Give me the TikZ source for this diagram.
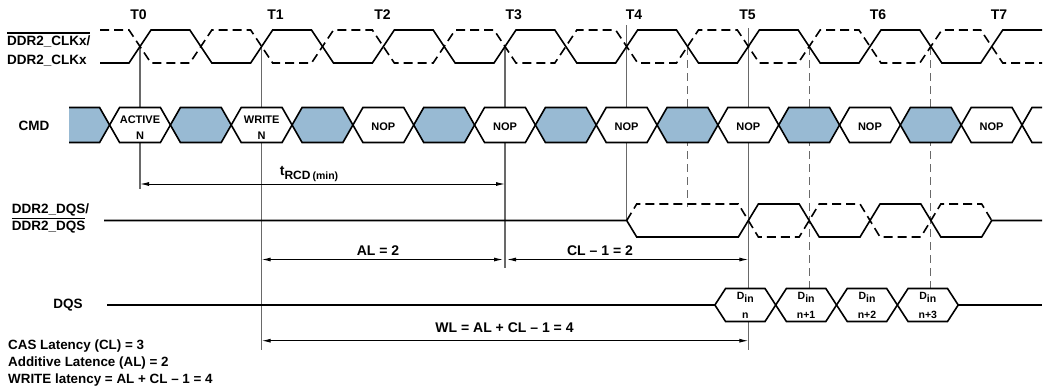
\documentclass[tikz,border=0pt]{standalone}
\usepackage{fontspec}
\setmainfont{Liberation Sans}
\usetikzlibrary{arrows.meta}
\definecolor{cmdblue}{RGB}{152,186,211}
\definecolor{guidegray}{RGB}{105,105,105}
\newcommand{\barsig}[1]{\vbox{\hrule height 1.2pt\kern 2.2pt\hbox{#1}}}

\begin{document}
\begin{tikzpicture}[x=1pt, y=-1pt, >={Latex[length=9pt,width=4pt]},
    font=\bfseries\fontsize{13.5}{15}\selectfont,
    wave/.style={line width=1.6pt},
    wavedash/.style={wave, dash pattern=on 9pt off 5pt},
    guide/.style={guidegray, line width=1.1pt},
    guidedash/.style={guide, dash pattern=on 8pt off 5pt},
    dim/.style={<->, line width=1pt},
    lbl/.style={inner sep=0pt, anchor=base west},
    big/.style={inner sep=0pt, font=\bfseries\fontsize{14}{16}\selectfont},
    celltxt/.style={inner sep=0pt, align=center, font=\bfseries\fontsize{11}{15.5}\selectfont},
    dintxt/.style={inner sep=0pt, align=center, font=\bfseries\fontsize{10.5}{19}\selectfont}]
  \useasboundingbox (0,0) rectangle (1048,389);

  % clock edge markers
  \foreach \nm/\xx/\ya/\yb in {T0/140/47/189, T1/261.7/47/350, T3/505/47/268, T4/626.7/25/221, T5/748.3/28/350} {
    \coordinate (\nm-top) at (\xx,\ya);
    \coordinate (\nm-bot) at (\xx,\yb);
    \draw[guide] (\nm-top) -- (\nm-bot);
  }
  \foreach \nm/\xx/\yb in {h4/687.5/207, h5/809.2/288, h6/930.8/288} {
    \coordinate (\nm-top) at (\xx,47);
    \coordinate (\nm-bot) at (\xx,\yb);
    \draw[guidedash] (\nm-top) -- (\nm-bot);
  }
  \foreach \nm/\xx in {0/138.5, 1/275.5, 2/382.5, 3/513.7, 4/634, 5/747.5, 6/878, 7/999}
    \node[big] (lab-T\nm) at (\xx,15) {T\nm};

  % clock pair
  \draw[wave] (100,63) foreach \k in {0,...,6} {
      -- ({129+121.67*\k},63) -- ({151+121.67*\k},30)
      -- ({189.83+121.67*\k},30) -- ({211.83+121.67*\k},63) }
    -- (980.7,63) -- (1002.7,30) -- (1042,30);
  \draw[wavedash] (100,30) foreach \k in {0,...,6} {
      -- ({129+121.67*\k},30) -- ({151+121.67*\k},63)
      -- ({189.83+121.67*\k},63) -- ({211.83+121.67*\k},30) }
    -- (980.7,30) -- (1002.7,63) -- (1042,63);
  \node[lbl] (clk-a) at (7,45.5) {\barsig{DDR2\_CLKx/}};
  \node[lbl] (clk-b) at (7,64.5) {DDR2\_CLKx};

  % command bus
  \fill[cmdblue] (69,107.5) -- (99.6,107.5) -- (109.6,125) -- (99.6,142.5) -- (69,142.5) -- cycle;
  \draw[wave] (69,107.5) -- (99.6,107.5) -- (109.6,125) -- (99.6,142.5) -- (69,142.5);
  \foreach \k in {0,...,14} {
    \pgfmathsetmacro{\cx}{140+60.83*\k}
    \ifodd\k \def\cellfill{cmdblue}\else \def\cellfill{white}\fi
    \draw[wave, fill=\cellfill] ({\cx-30.42},125) -- ({\cx-20.42},107.5) -- ({\cx+20.42},107.5)
      -- ({\cx+30.42},125) -- ({\cx+20.42},142.5) -- ({\cx-20.42},142.5) -- cycle;
  }
  \draw[wave] (1042,107.5) -- (1032,107.5) -- (1022,125) -- (1032,142.5) -- (1042,142.5);
  \node[celltxt] (cmd-act) at (140,127.5) {ACTIVE\\N};
  \node[celltxt] (cmd-wr) at (261.7,127.5) {WRITE\\N};
  \foreach \k in {4,6,...,14}
    \node[celltxt] (cmd-nop\k) at ({140+60.83*\k},126.8) {NOP};
  \node (cmd) at (34,126) {CMD};

  % strobe pair
  \draw[wave] (104,220.5) -- (626.7,220.5) -- (636.7,237) -- (738.35,237) -- (758.35,204)
    -- (799.18,204) -- (819.18,237) -- (860.02,237) -- (880.02,204) -- (920.85,204)
    -- (940.85,237) -- (981.69,237) -- (991.69,220.5) -- (1042,220.5);
  \draw[wavedash] (626.7,220.5) -- (636.7,204) -- (738.35,204) -- (758.35,237)
    -- (799.18,237) -- (819.18,204) -- (860.02,204) -- (880.02,237) -- (920.85,237)
    -- (940.85,204) -- (981.69,204) -- (991.69,220.5);
  \node[lbl] (dqs-a) at (11.7,213.3) {DDR2\_DQS/};
  \node[lbl] (dqs-b) at (11.7,230.7) {\barsig{DDR2\_DQS}};

  % data
  \draw[wave] (107,305) -- (714.9,305);
  \draw[wave] (958.2,305) -- (1042,305);
  \foreach \k/\sub in {0/n, 1/n+1, 2/n+2, 3/n+3} {
    \pgfmathsetmacro{\cx}{745.3+60.83*\k}
    \draw[wave, fill=white] ({\cx-30.42},305) -- ({\cx-19.72},288.5) -- ({\cx+19.72},288.5)
      -- ({\cx+30.42},305) -- ({\cx+19.72},321.5) -- ({\cx-19.72},321.5) -- cycle;
    \node[dintxt] (din\k) at (\cx,305) {D\raisebox{-3.5pt}{in}\\\sub};
  }
  \node (dqs) at (68,305) {DQS};

  % latencies
  \coordinate (rcd-l) at (140,184);
  \coordinate (rcd-r) at (505,184);
  \draw[dim] (rcd-l) -- (rcd-r);
  \node[big] (rcd) at (309,174) {t\raisebox{-3.5pt}{\fontsize{12}{12}\selectfont RCD\,\fontsize{10.5}{10.5}\selectfont (min)}};
  \coordinate (al-l) at (261.7,259.5);
  \coordinate (al-r) at (503,259.5);
  \draw[dim] (al-l) -- (al-r);
  \node[big] (al) at (378,250.7) {AL = 2};
  \coordinate (cl-l) at (507,259.5);
  \coordinate (cl-r) at (748.3,259.5);
  \draw[dim] (cl-l) -- (cl-r);
  \node[big] (cl) at (600,250.7) {CL – 1 = 2};
  \coordinate (wl-l) at (261.7,340.7);
  \coordinate (wl-r) at (748.3,340.7);
  \draw[dim] (wl-l) -- (wl-r);
  \node[big] (wl) at (504.5,328) {WL = AL + CL – 1 = 4};

  % notes
  \foreach \nm/\yy/\txt in {1/349.3/CAS Latency (CL) = 3, 2/366.5/Additive Latence (AL) = 2,
      3/383.3/WRITE latency = AL + CL – 1 = 4}
    \node[lbl, font=\bfseries\fontsize{13.4}{15}\selectfont] (note\nm) at (8,\yy) {\txt};
\end{tikzpicture}
\end{document}
